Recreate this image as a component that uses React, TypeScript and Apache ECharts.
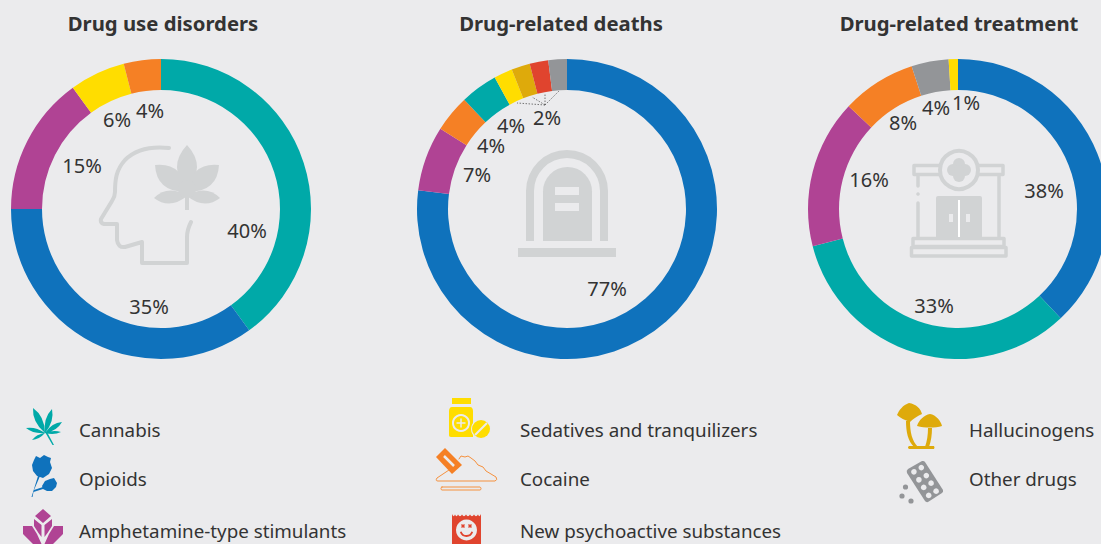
import React, { useEffect, useRef } from "react";
import * as echarts from "echarts";

const BG = "#ebebed";
const ICON = "#d1d3d4";
const TEXT = "#333333";
const FONT = '"Noto Sans", sans-serif';

const COLORS: Record<string, string> = {
  Cannabis: "#00a9a8",
  Opioids: "#0f72bc",
  Amphetamine: "#b04394",
  Sedatives: "#ffdd00",
  Cocaine: "#f58025",
  NPS: "#e0442e",
  Hallucinogens: "#deaa0b",
  Other: "#939598",
};

const titles = ["Drug use disorders", "Drug-related deaths", "Drug-related treatment"];

const disorderNames = ["Cannabis", "Opioids", "Amphetamine", "Sedatives", "Cocaine"];
const disorderValues = [40, 35, 15, 6, 4];
const deathNames = ["Opioids", "Amphetamine", "Cocaine", "Cannabis", "Sedatives", "Hallucinogens", "NPS", "Other"];
const deathValues = [77, 7, 4, 4, 2, 2, 2, 2];
const treatmentNames = ["Opioids", "Cannabis", "Amphetamine", "Cocaine", "Other", "Sedatives"];
const treatmentValues = [38, 33, 16, 8, 4, 1];

const legendLeft = ["Cannabis", "Opioids", "Amphetamine-type stimulants"];
const legendMiddle = ["Sedatives and tranquilizers", "Cocaine", "New psychoactive substances"];
const legendRight = ["Hallucinogens", "Other drugs"];

// Label anchor points (layout only)
const disorderLabelPos = [[247, 230], [149, 306], [82, 165], [117, 119], [150, 110]];
const deathLabelPos = [[607, 288], [477, 174], [491, 145], [511, 125], null, null, null, [547, 117]];
const treatmentLabelPos = [[1044, 190], [934, 305], [869, 179], [903, 122], [936, 107], [966, 102]];

const petal = (cx: number, cy: number, tx: number, ty: number, w: number) => {
  const dx = tx - cx, dy = ty - cy;
  const mx = cx + dx * 0.55, my = cy + dy * 0.55;
  const len = Math.hypot(dx, dy) || 1;
  const nx = (-dy / len) * w, ny = (dx / len) * w;
  return `M${cx},${cy} Q${mx + nx},${my + ny} ${tx},${ty} Q${mx - nx},${my - ny} ${cx},${cy} Z `;
};
const blob = (cx: number, cy: number, r: number) =>
  `M${cx - r},${cy} A${r},${r} 0 1 1 ${cx + r},${cy} A${r},${r} 0 1 1 ${cx - r},${cy} Z `;

const SHAPES: Record<string, string> = {
  cannabisIcon:
    petal(45, 433, 33, 408, 7) + petal(45, 433, 52, 409, 6) + petal(45, 433, 62, 422, 5) +
    petal(45, 433, 26, 428, 4) + petal(45, 433, 61, 432, 3) + petal(45, 433, 32, 440, 3),
  cannabisStem: "M45,432 L47,432 L54,445 L52.5,445 Z",
  poppyIcon:
    "M36,456 L40,458 L44,455 L48,457 L51,458 L50,462 L52,468 L49,474 L43,478 L37,476 L33,471 L32,465 L34,460 Z " +
    "M45,481 L50,479 L54,478 L57,483 L56,487 L52,491 L47,491 L43,489 L42,486 Z " +
    "M38,476 L40,476 L34,490 L43,487 L43,489 L33.5,492 L32.5,497 L31.5,497 Z",
  pillBottle:
    "M452,398 H471 V404 H452 Z M452,407 H470 C472,407 473,409 473,411 V437 H451 C449.5,437 449,436 449,435 V411 C449,409 450,407 452,407 Z",
  pillRound: blob(481, 429, 9),
  razor: "M445,448 L462,465 L452,474 L436,457 Z",
  powder:
    "M449,470 L437,478 Q435,481 438,481 H495 Q498,480 496,477 L486,471 L483,467 L478,465 L475,461 L471,458 L468,456 L465,457 L461,456 L459,459",
  plate: "M442,487 H480 Q481,487.5 481,488.5 Q481,490 480,490 H442 Q441,490 441,488.5 Q441,487 442,487 Z",
  packet:
    "M452,514 Q453.5,518 455,514.5 Q456.5,518 458,514.5 Q460,518 462,514.5 Q464,518 466,514.5 Q468,518 470,514.5 Q472,518 474,514.5 Q476,518 478,514.5 Q479.5,518 481,514 V544 H452 Z",
  mushroomCaps:
    "M909,403 C916,404 921,409 922,414 C917,416 913,419 910,422 C905,420 900,418 897,415 C899,410 903,405 909,403 Z " +
    "M930,414 C936,415 941,421 942,426 C935,428 925,428 917,426 C919,420 924,415 930,414 Z",
  mushroomStems:
    "M906,421 H910 C910,432 912,441 918,447 H914 C908,441 906,432 906,421 Z " +
    "M928,428 H932 C932,435 931,441 929,447 H925 C927,441 928,435 928,428 Z " +
    "M909,446 H934 Q935,447.5 934,449 H909 Q907,447.5 909,446 Z",
  blister: "M908,469 L922,461 Q924,460.5 925,462 L943,490 Q943.5,492 942,493 L928,502 Q926,502.5 925,501 L907,473 Q906,470.5 908,469 Z",
  tablets: blob(905.5, 487, 2.6) + blob(902, 496, 2.6) + blob(911, 501, 2.6),
  amphetamine:
    "M43,509 L51,516 L43,523 L35,516 Z " +
    "M34,519 L41.5,525 V537 L38.5,533 L34,526 Z M52,519 L44.5,525 V537 L47.5,533 L52,526 Z " +
    "M23,526 H32 L37,534 L41.5,544 H33 L23,534 Z M63,526 H54 L49,534 L44.5,544 H53 L63,534 Z",
  head:
    "M169,148 C150,146 135,150 125,160 C116,170 115,180 115,192 C115,196 114,198 112,201 L101,219 Q100,223 104,224 H117 V240 Q118,248 125,247 L142,242 V263 H187 V237 Q187,230 191,222",
  leafTop: petal(187, 192, 187, 145, 20),
  leafUpperLeft: petal(187, 192, 155, 165, 20),
  leafUpperRight: petal(187, 192, 219, 165, 20),
  leafLowerLeft: petal(187, 196, 154, 198, 13),
  leafLowerRight: petal(187, 196, 220, 198, 13),
  leafHub: blob(187, 189, 9),
  leafStem: "M185,190 H189 V210 H185 Z",
  archOuter: "M526,241 V191 A41,41 0 0 1 608,191 V241 H600 V191 A33,33 0 0 0 534,191 V241 Z",
  archInner: "M543,241 V191.5 A24.5,24.5 0 0 1 592,191.5 V241 Z",
  archBase: "M518,248 H616 V257 H518 Z",
  clinicFrame:
    "M939,165.500 H914 V174.500 H918 V186 M918,203 V237 M999,174.500 H1003 V165.500 H979 M939,174.500 H918 M979,174.500 H999 V237 " +
    "M913,238.500 H1004 V246.500 H913 Z M911.500,247.500 H1006 V256 H911.500 Z",
  clinicDoor: "M938,196 H980 Q982,196 982,198 V237 H936 V198 Q936,196 938,196 Z",
  crossA: blob(959, 164, 6),
  crossB: blob(959, 176, 6),
  crossC: blob(953, 170, 6),
  crossD: blob(965, 170, 6),
  crossE: blob(959, 170, 5),
};
Object.entries(SHAPES).forEach(([name, d]) => {
  echarts.graphic.registerShape(name, echarts.graphic.extendPath(d, {}));
});

const fillShape = (type: string, fill: string) => ({ type, x: 0, y: 0, silent: true, style: { fill } });
const strokeShape = (type: string, stroke: string, lineWidth: number) => ({
  type, x: 0, y: 0, silent: true,
  style: { fill: "none", stroke, lineWidth, lineCap: "round", lineJoin: "round" },
});
const rect = (x: number, y: number, width: number, height: number, fill: string) => ({
  type: "rect", silent: true, shape: { x, y, width, height }, style: { fill },
});
const circle = (cx: number, cy: number, r: number, style: any) => ({
  type: "circle", silent: true, shape: { cx, cy, r }, style,
});
const line = (x1: number, y1: number, x2: number, y2: number, stroke: string, lineWidth: number, extra: any = {}) => ({
  type: "line", silent: true, shape: { x1, y1, x2, y2 }, style: { stroke, lineWidth, ...extra },
});
const legendText = (text: string, x: number, y: number) => ({
  type: "text", silent: true, x, y,
  style: { text, fill: TEXT, font: `400 18.8px ${FONT}`, textAlign: "left", textVerticalAlign: "middle" },
});

const blisterHoles = [
  [913.9, 471.8], [921.3, 467.6], [918.9, 479.8], [926.3, 475.6],
  [923.7, 487.4], [931.1, 483.2], [928.7, 495.4], [936.1, 491.2],
].map(([x, y]) => circle(x, y, 2.800, { fill: BG }));

const icons: any[] = [
  // centre pictograms
  strokeShape("head", ICON, 4),
  ...["leafTop", "leafUpperLeft", "leafUpperRight", "leafLowerLeft", "leafLowerRight", "leafHub", "leafStem"]
    .map((n) => fillShape(n, ICON)),
  fillShape("archOuter", ICON),
  fillShape("archInner", ICON),
  fillShape("archBase", ICON),
  rect(555, 187, 24, 8, BG),
  rect(555, 203, 24, 8, BG),
  strokeShape("clinicFrame", ICON, 3.500),
  circle(918, 194, 1.800, { fill: ICON }),
  fillShape("clinicDoor", ICON),
  line(959, 200, 959, 237, "#ffffff", 2),
  rect(949, 214, 4, 8, BG),
  rect(966, 214, 4, 8, BG),
  circle(959, 170, 19, { fill: BG, stroke: ICON, lineWidth: 4 }),
  ...["crossA", "crossB", "crossC", "crossD", "crossE"].map((n) => fillShape(n, ICON)),
  // legend pictograms
  fillShape("cannabisIcon", COLORS.Cannabis),
  fillShape("cannabisStem", COLORS.Cannabis),
  fillShape("poppyIcon", COLORS.Opioids),
  fillShape("amphetamine", COLORS.Amphetamine),
  fillShape("pillBottle", COLORS.Sedatives),
  circle(461, 423, 8, { fill: COLORS.Sedatives, stroke: BG, lineWidth: 2 }),
  line(456.500, 423, 465.500, 423, BG, 1.500),
  line(461, 418.500, 461, 427.500, BG, 1.500),
  circle(481, 429, 10, { fill: BG }),
  fillShape("pillRound", COLORS.Sedatives),
  line(475, 435, 487, 423, BG, 2),
  fillShape("razor", COLORS.Cocaine),
  line(444, 456, 454, 466, BG, 2.500),
  strokeShape("powder", "#f5913f", 1),
  strokeShape("plate", "#f5913f", 1),
  fillShape("packet", COLORS.NPS),
  circle(466.500, 530, 10.500, { fill: BG }),
  line(461.500, 524.500, 464.500, 527.500, COLORS.NPS, 1.500),
  line(464.500, 524.500, 461.500, 527.500, COLORS.NPS, 1.500),
  line(468.500, 524.500, 471.500, 527.500, COLORS.NPS, 1.500),
  line(471.500, 524.500, 468.500, 527.500, COLORS.NPS, 1.500),
  { type: "arc", silent: true, shape: { cx: 466.500, cy: 530, r: 6, startAngle: 0.300, endAngle: 2.850 },
    style: { stroke: COLORS.NPS, lineWidth: 1.800, fill: "none" } },
  fillShape("mushroomCaps", COLORS.Hallucinogens),
  fillShape("mushroomStems", COLORS.Hallucinogens),
  fillShape("blister", COLORS.Other),
  ...blisterHoles,
  fillShape("tablets", COLORS.Other),
  // dotted callout for the 2% slices
  line(545, 105, 517, 103, "#555555", 0.800, { lineDash: [1.500, 1.500] }),
  line(545, 105, 532, 97, "#555555", 0.800, { lineDash: [1.500, 1.500] }),
  line(545, 105, 545, 93, "#555555", 0.800, { lineDash: [1.500, 1.500] }),
  line(545, 105, 559, 91, "#555555", 0.800, { lineDash: [1.500, 1.500] }),
];

const legendRows = [429.500, 478.500, 530.500];
const legendTexts = [
  ...legendLeft.map((t, i) => legendText(t, 79, legendRows[i])),
  ...legendMiddle.map((t, i) => legendText(t, 520, legendRows[i])),
  ...legendRight.map((t, i) => legendText(t, 969, legendRows[i])),
];

const makePie = (
  names: string[], values: number[], cx: number, positions: (number[] | null)[],
) => ({
  type: "pie",
  center: [cx, 209],
  radius: [119, 150],
  startAngle: 90,
  clockwise: true,
  silent: true,
  avoidLabelOverlap: false,
  itemStyle: { borderWidth: 0 },
  label: {
    show: true, position: "inside", formatter: "{c}%", color: TEXT,
    fontFamily: FONT, fontSize: 20, fontWeight: 400,
  },
  labelLine: { show: false },
  labelLayout: (p: any) => {
    const pos = positions[p.dataIndex];
    return pos ? { x: pos[0], y: pos[1], align: "center", verticalAlign: "middle" } : {};
  },
  data: names.map((n, i) => ({
    name: n,
    value: values[i],
    itemStyle: { color: COLORS[n] },
    label: { show: positions[i] != null },
  })),
});

export default function App() {
  const ref = useRef<HTMLDivElement>(null);
  useEffect(() => {
    const chart = echarts.init(ref.current!, undefined, { renderer: "svg" });
    chart.setOption({
      animation: false,
      backgroundColor: BG,
      title: titles.map((text, i) => ({
        text,
        left: [158, 556, 954][i],
        top: 8,
        textAlign: "center",
        textStyle: { color: TEXT, fontFamily: FONT, fontSize: 20.3, fontWeight: 700 },
      })),
      series: [
        makePie(disorderNames, disorderValues, 161, disorderLabelPos),
        makePie(deathNames, deathValues, 567, deathLabelPos),
        makePie(treatmentNames, treatmentValues, 958, treatmentLabelPos),
      ],
      graphic: { elements: [...icons, ...legendTexts] },
    });
    return () => chart.dispose();
  }, []);
  return (
    <div
      ref={ref}
      style={{ position: "fixed", left: 0, top: 0, width: 1101, height: 544, overflow: "hidden" }}
    />
  );
}
